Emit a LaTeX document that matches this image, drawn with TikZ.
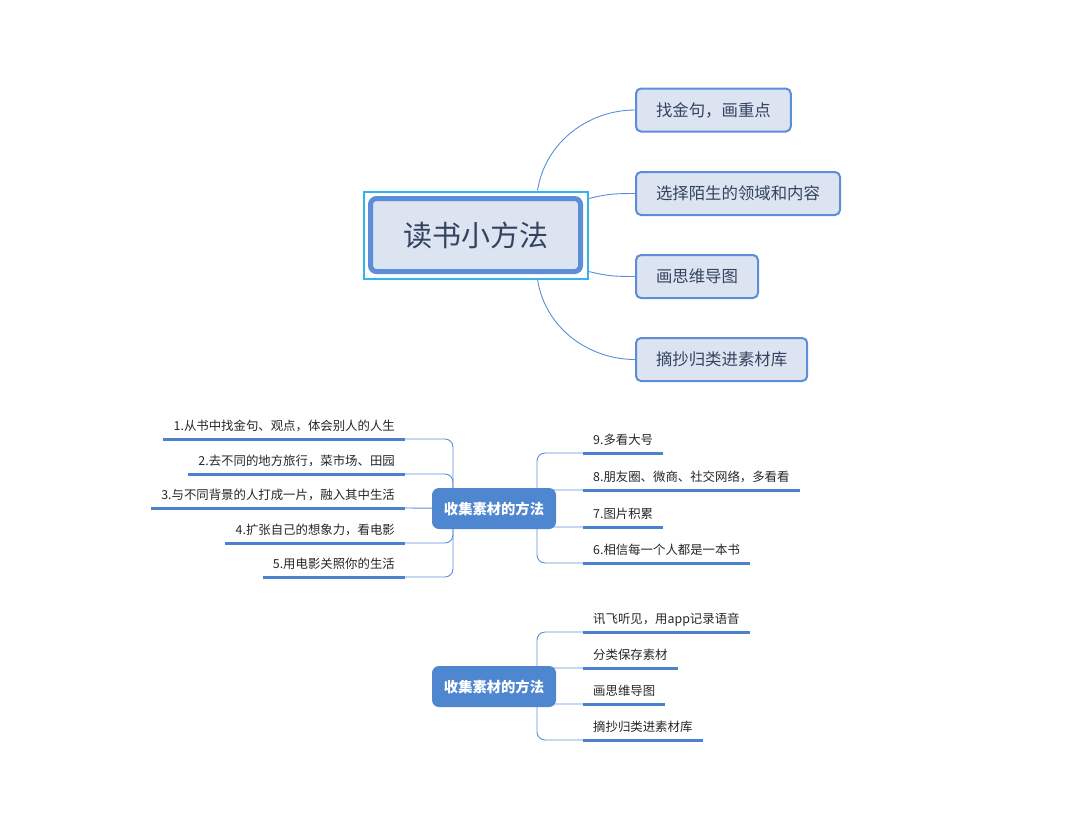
\documentclass[tikz,border=0pt]{standalone}
\usepackage{fontspec}
\setmainfont{Noto Sans CJK SC}
\usetikzlibrary{backgrounds, fit}
\definecolor{mmblue}{HTML}{5B8ED6}
\definecolor{mmfill}{HTML}{DCE4F2}
\definecolor{mmcyan}{HTML}{33B5EC}
\definecolor{mmtext}{HTML}{34435F}
\definecolor{mmhub}{HTML}{4E86D0}
\definecolor{mmline}{HTML}{4B81CE}
\tikzset{
  rootbox/.style={draw=mmblue, line width=5pt, fill=mmfill, rounded corners=6pt,
    minimum width=210pt, minimum height=73pt, text=mmtext, font=\fontsize{29}{34}\selectfont},
  rootframe/.style={draw=mmcyan, line width=2pt, inner sep=4.5pt},
  topicbox/.style={draw=mmblue, line width=2pt, fill=mmfill, rounded corners=5pt, anchor=west,
    minimum height=43pt, inner xsep=20pt, text=mmtext, font=\fontsize{16.4}{20}\selectfont},
  hubbox/.style={fill=mmhub, rounded corners=7pt, minimum width=124pt, minimum height=41pt,
    text=white, font=\bfseries\fontsize{14.3}{17}\selectfont},
  leafl/.style={anchor=south east, inner xsep=10pt, inner ysep=5.5pt, text height=10pt,
    text depth=2.5pt, text=black!85, font=\fontsize{12.4}{15}\selectfont},
  leafr/.style={leafl, anchor=south west},
  uline/.style={mmline, line width=3pt},
  link/.style={mmblue, line width=0.9pt, rounded corners=8pt},
}

\begin{document}
\begin{tikzpicture}[x=1pt, y=-1pt]
  \useasboundingbox (0,0) rectangle (1080,839);

  % central topic and its four branches
  \node[rootbox] (root) at (475.5,235) {读书小方法};
  \node[rootframe, fit=(root)] (frame) {};

  \node[topicbox] (t1) at (635,110) {找金句，画重点};
  \node[topicbox] (t2) at (635,193.5) {选择陌生的领域和内容};
  \node[topicbox] (t3) at (635,276.5) {画思维导图};
  \node[topicbox] (t4) at (635,359.5) {摘抄归类进素材库};

  \draw[link] ([xshift=62pt]frame.north) .. controls +(8,-50) and +(-45,0) .. (t1.west);
  \draw[link] ([yshift=-8pt]frame.north east) .. controls +(18,-4) and +(-25,0) .. (t2.west);
  \draw[link] ([yshift=8pt]frame.south east) .. controls +(18,4) and +(-25,0) .. (t3.west);
  \draw[link] ([xshift=62pt]frame.south) .. controls +(8,50) and +(-45,0) .. (t4.west);

  % first material hub
  \node[hubbox] (hubA) at (494,508.5) {收集素材的方法};
  \coordinate (lt) at (453,508);
  \coordinate (rt) at (537,508);

  \foreach \i/\y/\txt in {1/439/{1.从书中找金句、观点，体会别人的人生},
      2/474/{2.去不同的地方旅行，菜市场、田园}, 3/508/{3.与不同背景的人打成一片，融入其中生活},
      4/543/{4.扩张自己的想象力，看电影}, 5/577/{5.用电影关照你的生活}} {
    \node[leafl] (a\i) at (405,\y) {\txt};
    \draw[uline] (a\i.south west) -- (a\i.south east);
  }
  \foreach \i/\y/\txt in {9/453/{9.多看大号}, 8/490/{8.朋友圈、微商、社交网络，多看看},
      7/527/{7.图片积累}, 6/563/{6.相信每一个人都是一本书}} {
    \node[leafr] (b\i) at (583,\y) {\txt};
    \draw[uline] (b\i.south west) -- (b\i.south east);
  }

  % second material hub
  \node[hubbox] (hubB) at (494,686.5) {收集素材的方法};
  \coordinate (rt2) at (537,686);

  \foreach \i/\y/\txt in {1/632/{讯飞听见，用app记录语音}, 2/668/{分类保存素材},
      3/704/{画思维导图}, 4/740/{摘抄归类进素材库}} {
    \node[leafr] (c\i) at (583,\y) {\txt};
    \draw[uline] (c\i.south west) -- (c\i.south east);
  }

  \begin{pgfonlayer}{background}
    \foreach \i in {1,2,4,5} \draw[link] (lt) |- (a\i.south east);
    \draw[link] (hubA) -- (a3.south east);
    \foreach \i in {9,8,7,6} \draw[link] (rt) |- (b\i.south west);
    \foreach \i in {1,...,4} \draw[link] (rt2) |- (c\i.south west);
  \end{pgfonlayer}
\end{tikzpicture}
\end{document}
